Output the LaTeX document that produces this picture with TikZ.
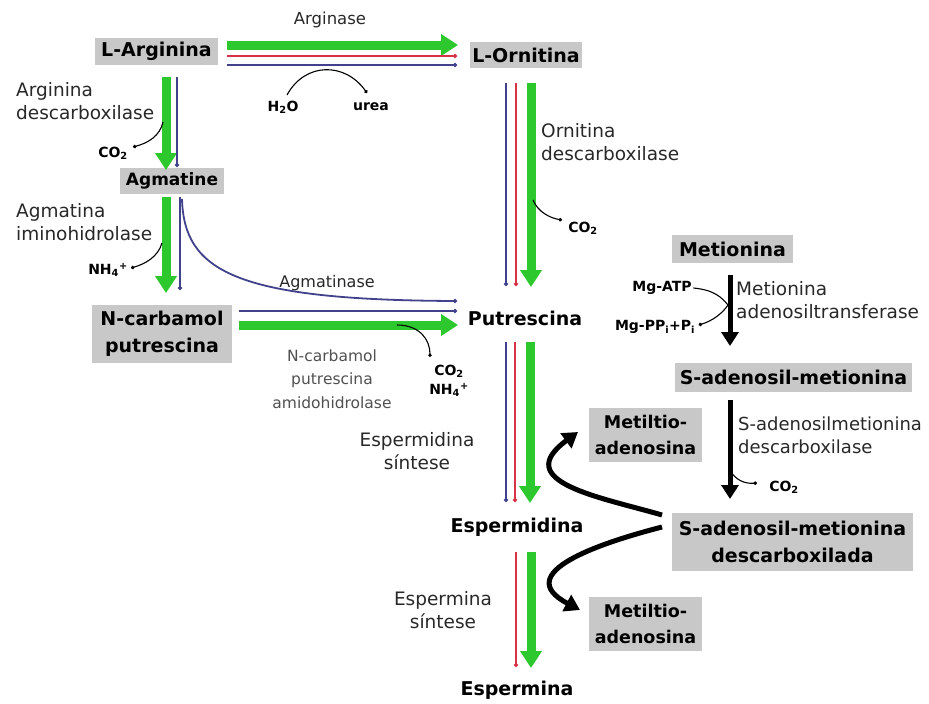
\documentclass[tikz,border=0pt]{standalone}
\usepackage{fontspec}
\setmainfont{DejaVu Sans}
\usetikzlibrary{arrows.meta,calc}
\definecolor{pgreen}{RGB}{45,200,45}
\definecolor{pred}{RGB}{215,50,70}
\definecolor{pblue}{RGB}{65,65,140}
\definecolor{boxgray}{RGB}{200,200,200}
\definecolor{labgray}{RGB}{40,40,40}
\definecolor{lightlab}{RGB}{80,80,80}
\begin{document}
\begin{tikzpicture}[x=1pt,y=-1pt,
  box/.style={fill=boxgray,inner sep=0pt,align=center,font=\bfseries\fontsize{19}{27}\selectfont},
  plain/.style={inner sep=0pt,align=center,font=\bfseries\fontsize{19}{27}\selectfont},
  lab/.style={inner sep=0pt,text=labgray,font=\fontsize{18.5}{23}\selectfont},
  chem/.style={inner sep=0.5pt,font=\bfseries\fontsize{14}{19}\selectfont},
  garrow/.style={draw=pgreen,line width=9pt,-{Triangle[width=21pt,length=17pt]}},
  barrow/.style={draw=pblue,line width=1.8pt,-{Circle[length=4pt]}},
  rarrow/.style={draw=pred,line width=1.8pt,-{Circle[length=4pt]}},
  karrow/.style={draw=black,line width=5pt,-{Triangle[width=17pt,length=14pt]}},
  carrow/.style={draw=black,line width=5pt,-{Triangle[width=18pt,length=15pt]}},
  branch/.style={draw=black,line width=1.1pt,-{Circle[length=3.5pt]}}
]
\useasboundingbox (0,0) rectangle (929,704);

% metabolite nodes
\node[box,minimum width=123pt,minimum height=27pt] (arg) at (156.5,51.5) {L-Arginina};
\node[box,minimum width=112pt,minimum height=26pt] (orn) at (526,55) {L-Ornitina};
\node[box,minimum width=104pt,minimum height=26pt,font=\bfseries\fontsize{17}{20}\selectfont] (agm) at (172,181) {Agmatine};
\node[box,minimum width=140pt,minimum height=58pt] (ncp) at (162,334) {N-carbamol\\putrescina};
\node[plain] (put) at (525,318) {Putrescina};
\node[box,minimum width=121pt,minimum height=28pt] (met) at (732.5,249) {Metionina};
\node[box,minimum width=237pt,minimum height=29pt] (sam) at (793.5,377.5) {S-adenosil-metionina};
\node[box,minimum width=113pt,minimum height=54pt,font=\bfseries\fontsize{17.5}{26}\selectfont] (mta1) at (645.5,435) {Metiltio-\\adenosina};
\node[box,minimum width=241pt,minimum height=58pt] (dsam) at (792.5,542) {S-adenosil-metionina\\descarboxilada};
\node[box,minimum width=113pt,minimum height=54pt,font=\bfseries\fontsize{17.5}{26}\selectfont] (mta2) at (645.5,624) {Metiltio-\\adenosina};
\node[plain] (spd) at (517,527) {Espermidina};
\node[plain] (spm) at (517,690) {Espermina};

% enzyme labels
\node[lab,anchor=west,align=left] (lArgDC) at (16,101) {Arginina\\descarboxilase};
\node[lab,anchor=west,align=left] (lAgmIH) at (16,222) {Agmatina\\iminohidrolase};
\node[lab,font=\fontsize{16.5}{20}\selectfont] (lArgase) at (330,20) {Arginase};
\node[lab,anchor=west,align=left] (lOrnDC) at (541,142) {Ornitina\\descarboxilase};
\node[lab,font=\fontsize{16}{20}\selectfont] (lAgmase) at (327,283) {Agmatinase};
\node[lab,align=center,text=lightlab,font=\fontsize{15.5}{23.5}\selectfont] (lNcpAH) at (332,379) {N-carbamol\\putrescina\\amidohidrolase};
\node[lab,align=center] (lSpdS) at (417,451) {Espermidina\\síntese};
\node[lab,align=center] (lSpmS) at (443,610) {Espermina\\síntese};
\node[lab,anchor=west,align=left] (lMetAT) at (736,300) {Metionina\\adenosiltransferase};
\node[lab,anchor=west,align=left,font=\fontsize{18}{23}\selectfont] (lSamDC) at (738,435) {S-adenosilmetionina\\descarboxilase};

% small chemical labels
\node[chem] (co2a) at (113,153) {CO\textsubscript{2}};
\node[chem] (h2o) at (283,107) {H\textsubscript{2}O};
\node[chem] (urea) at (371,107) {urea};
\node[chem] (nh4a) at (108,270) {NH\textsubscript{4}\textsuperscript{+}};
\node[chem] (co2b) at (583,228) {CO\textsubscript{2}};
\node[chem,align=center] (co2c) at (449,381) {CO\textsubscript{2}\\NH\textsubscript{4}\textsuperscript{+}};
\node[chem] (mgatp) at (662,288) {Mg-ATP};
\node[chem] (mgpp) at (655,327) {Mg-PP\textsubscript{i}+P\textsubscript{i}};
\node[chem] (co2d) at (784,487) {CO\textsubscript{2}};

% L-Arginina -> L-Ornitina
\draw[garrow] ($(arg)+(70.5,-6.5)$) -- ($(orn)+(-68,-10)$);
\draw[rarrow] ($(arg)+(70.5,4.5)$) -- ($(orn)+(-69,1)$);
\draw[barrow] ($(arg)+(70.5,13.5)$) -- ($(orn)+(-69,10)$);
\draw[branch] ($(h2o)+(4,-12)$) .. controls (305,62) and (345,62) .. ($(urea)+(-4,-14)$);

% L-Arginina -> Agmatine
\draw[garrow] ($(arg)+(9.5,25.5)$) -- ($(agm)+(-6,-11)$);
\draw[barrow] ($(arg)+(20.5,25.5)$) -- ($(agm)+(5,-14)$);
\draw[branch] ($(arg)+(6.5,70.5)$) .. controls (160,136) and (148,143) .. ($(co2a)+(20,-6)$);

% Agmatine -> N-carbamol putrescina
\draw[garrow] ($(agm)+(-6,16)$) -- ($(ncp)+(4,-41)$);
\draw[barrow] ($(agm)+(8,16)$) -- ($(ncp)+(18,-44)$);
\draw[branch] ($(agm)+(-10,62)$) .. controls (158,257) and (145,264) .. ($(nh4a)+(23,-2)$);

% Agmatine -> Putrescina (agmatinase)
\draw[barrow] ($(agm)+(10,18)$) .. controls (184,271) and (235,300) .. ($(put)+(-68,-17)$);

% N-carbamol putrescina -> Putrescina
\draw[barrow] ($(ncp)+(77,-23)$) -- ($(put)+(-68,-7)$);
\draw[garrow] ($(ncp)+(77,-9)$) -- ($(put)+(-67,7)$);
\draw[branch] ($(ncp)+(235,-9)$) .. controls (420,325) and (430,340) .. ($(co2c)+(-19,-24)$);

% L-Ornitina -> Putrescina
\draw[barrow] ($(orn)+(-20,28)$) -- ($(put)+(-19,-32)$);
\draw[rarrow] ($(orn)+(-10,28)$) -- ($(put)+(-9,-32)$);
\draw[garrow] ($(orn)+(5,28)$) -- ($(put)+(6,-31)$);
\draw[branch] ($(orn)+(7,145)$) .. controls (538,212) and (550,218) .. ($(co2b)+(-21,-8)$);

% Putrescina -> Espermidina
\draw[barrow] ($(put)+(-19,24)$) -- ($(spd)+(-11,-25)$);
\draw[rarrow] ($(put)+(-10,24)$) -- ($(spd)+(-2,-25)$);
\draw[garrow] ($(put)+(5,24)$) -- ($(spd)+(13,-24)$);

% Espermidina -> Espermina
\draw[rarrow] ($(spd)+(-1,25)$) -- ($(spm)+(-1,-23)$);
\draw[garrow] ($(spd)+(14,25)$) -- ($(spm)+(14,-22)$);

% Metionina -> S-adenosil-metionina
\draw[karrow] ($(met)+(-2.5,26)$) -- ($(sam)+(-63.5,-31.5)$);
\draw[branch] ($(mgatp.east)+(1,0)$) .. controls (715,290) and (722,298) .. (728,305) .. controls (722,314) and (712,321) .. ($(mgpp.east)+(3,-2)$);

% S-adenosil-metionina -> descarboxilada
\draw[karrow] ($(sam)+(-63.5,22.5)$) -- ($(dsam)+(-62.5,-43)$);
\draw[branch] ($(sam)+(-63.5,92.5)$) .. controls (735,480) and (745,484) .. ($(co2d)+(-27,-4)$);

% descarboxilada -> Metiltio-adenosina
\draw[carrow] ($(dsam)+(-130.5,-27)$) .. controls (600,497) and (510,482) .. ($(mta1)+(-67.5,-3)$);
\draw[carrow] ($(dsam)+(-130.5,-15)$) .. controls (600,543) and (510,573) .. ($(mta2)+(-65.5,-14)$);
\end{tikzpicture}
\end{document}
